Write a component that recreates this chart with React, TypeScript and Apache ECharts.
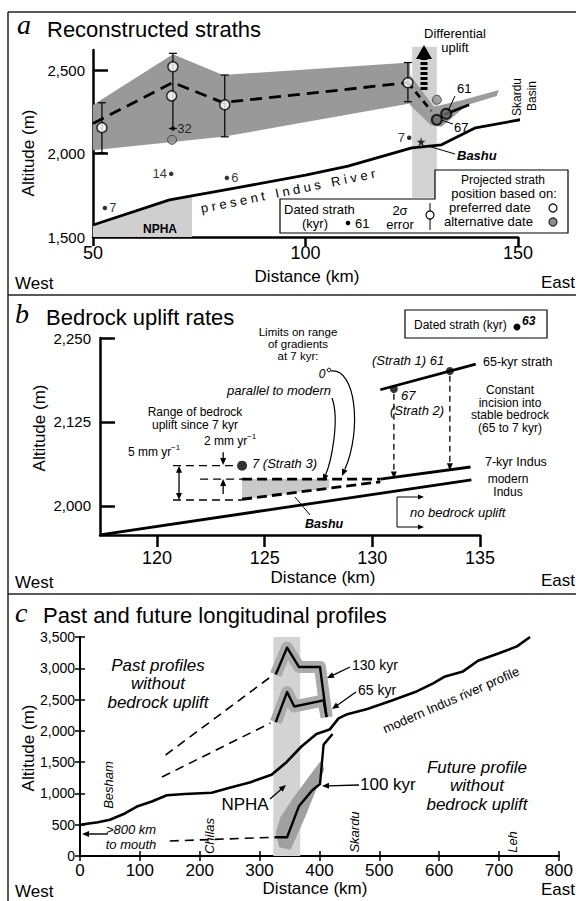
import React, { useEffect, useRef } from 'react';
import * as echarts from 'echarts';

const FF = '"Liberation Sans", Arial, Helvetica, sans-serif';
const SERIF = '"Liberation Serif", "Times New Roman", serif';

// ---------------- Panel a : Reconstructed straths ----------------
const aXTicks = [50, 100, 150];
const aYTicks = [1500, 2000, 2500];
const aEnvelope = [[50, 2290], [68.8, 2595], [80.6, 2470], [124.6, 2545], [124.6, 2300], [80.6, 2100], [50, 2020]];
const aVBand = [[124.6, 2470], [130.2, 2280], [137, 2320], [145.5, 2380], [145, 2345], [138, 2290], [132, 2160], [129.5, 2170], [124.6, 2290]];
const aDiffBand = [[125.1, 1735], [125.1, 2640], [130.9, 2640], [130.9, 1735]];
const aNPHA = [[50, 1500], [50, 1572], [68, 1722], [73.3, 1738], [73.3, 1500]];
const aMeanDashed = [[50, 2180], [68.8, 2425], [80.6, 2305], [124.1, 2424]];
const aMeanDashed2 = [[124.1, 2424], [129.6, 2255]];
const aMeanSolid = [[132.6, 2232], [138.5, 2292]];
const aIndus = [[50, 1572], [68, 1722], [85, 1800], [100, 1870], [110, 1925], [125, 2034], [132, 2052], [140, 2154], [153, 2214]];
const aErrorBars = [[52.1, 2004, 2304], [68.8, 2150, 2600], [81, 2100, 2470], [124.1, 2310, 2545]];
const aPreferred = [[52.1, 2155], [68.8, 2520], [68.5, 2345], [81, 2292], [124.1, 2424]];
const aAlternative = [[68.6, 2082], [130.9, 2322]];
const aAltRinged = [[130.9, 2202], [133.1, 2238]];
const aDated = [[52.8, 1674], [68.4, 1878], [81.5, 1854], [124.4, 2094], [68.8, 2150]];
const aDatedLabels = ['7', '14', '6', '7', '32'];
const aDatedPos = ['right', 'left', 'right', 'left', 'right'];
const aBashu = [[127.2, 2070]];

// ---------------- Panel b : Bedrock uplift rates ----------------
const bXTicks = [120, 125, 130, 135];
const bYTicks = [2000, 2125, 2250];
const bModern = [[117.35, 1957], [134.6, 2039]];
const b7kyr = [[130.37, 2040], [134.56, 2058]];
const bUpperDashed = [[123.95, 2040], [130.37, 2040]];
const bLowerDashed = [[123.95, 2010], [130.37, 2036]];
const bFill = [[123.95, 2040], [128, 2040], [128, 2026.4], [123.95, 2010]];
const bThin1 = [[120.74, 2060], [123.7, 2060]];
const bThin2 = [[122.0, 2040], [123.95, 2040]];
const bThin3 = [[120.74, 2009], [123.95, 2009]];
const b65kyr = [[130.37, 2173], [134.8, 2211]];
const bStrath3 = [[123.95, 2060]];
const bStraths12 = [[131.0, 2174], [133.6, 2201]];
const bArrows = [
  { from: [131.0, 2167], to: [131.0, 2041], dash: [6, 4] },
  { from: [133.6, 2194], to: [133.6, 2053], dash: [6, 4] },
  { from: [121.02, 2060], to: [121.02, 2009], both: true },
  { from: [123.07, 2080], to: [123.07, 2061] },
  { from: [123.07, 2018], to: [123.07, 2040] },
];

// ---------------- Panel c : Past and future longitudinal profiles ----------------
const cModern = [[0, 500], [30, 540], [50, 580], [75, 680], [95, 790], [120, 870], [145, 970], [175, 990], [220, 1010], [250, 1090], [285, 1180], [320, 1300], [345, 1500], [370, 1750], [395, 1950], [417, 2020], [432, 2200], [445, 2260], [480, 2350], [520, 2480], [560, 2620], [590, 2760], [610, 2870], [640, 2950], [665, 3120], [700, 3240], [730, 3350], [752, 3500]];
const cPast130 = [[143, 1614], [316, 2845]];
const cPast65 = [[137, 1262], [318, 2125]];
const c130 = [[327, 2900], [346, 3330], [366, 3020], [401, 3020], [412, 2220]];
const c65 = [[327, 2140], [346, 2620], [358, 2390], [399, 2470], [407, 2490], [412, 2220]];
const c100Dashed = [[150, 240], [325, 300]];
const c100 = [[325, 300], [346, 300], [366, 800], [388, 1050], [401, 1150], [407, 1780], [422, 1950]];
const c100Shade = [[333, 140], [352, 100], [376, 620], [408, 1380], [404, 1540], [391, 1380], [358, 950], [335, 625], [327, 370]];
const cNPHA = [[323, 0], [323, 3500], [368, 3500], [368, 0]];

// ---------------- helpers ----------------
type TO = { fs?: number; ff?: string; it?: boolean; b?: boolean; al?: string; rot?: number };
const T = (text: string, x: number, y: number, o: TO = {}) => ({
  type: 'text', x, y, rotation: o.rot || 0, z: 50, silent: true,
  style: {
    text, fill: '#000', fontSize: o.fs || 12, fontFamily: o.ff || FF,
    fontStyle: o.it ? 'italic' : 'normal', fontWeight: o.b ? 'bold' : 'normal',
    align: o.al || 'left', verticalAlign: 'middle',
  },
});
const L = (x1: number, y1: number, x2: number, y2: number, w = 1.2, dash?: number[], color = '#000') => ({
  type: 'line', z: 50, silent: true, shape: { x1, y1, x2, y2 }, style: { stroke: color, lineWidth: w, lineDash: dash },
});
function arrowEls(x1: number, y1: number, x2: number, y2: number, o: any = {}) {
  const w = o.w ?? 1.2, h = o.h ?? 7, hw = o.hw ?? 3;
  const a = Math.atan2(y2 - y1, x2 - x1), c = Math.cos(a), s = Math.sin(a);
  const head = (tx: number, ty: number, dir: number) => {
    const bx = tx - dir * h * c, by = ty - dir * h * s;
    return { type: 'polygon', z: 50, silent: true, shape: { points: [[tx, ty], [bx - s * hw, by + c * hw], [bx + s * hw, by - c * hw]] }, style: { fill: '#000' } };
  };
  const sx = o.both ? x1 + h * c * 0.8 : x1, sy = o.both ? y1 + h * s * 0.8 : y1;
  const els: any[] = [
    { type: 'line', z: 50, silent: true, shape: { x1: sx, y1: sy, x2: x2 - h * c * 0.8, y2: y2 - h * s * 0.8 }, style: { stroke: '#000', lineWidth: w, lineDash: o.dash } },
    head(x2, y2, 1),
  ];
  if (o.both) els.push(head(x1, y1, -1));
  return els;
}
function curveArrow(p: number[], w = 1.2) {
  const [x1, y1, c1x, c1y, c2x, c2y, x2, y2] = p;
  const a = Math.atan2(y2 - c2y, x2 - c2x), c = Math.cos(a), s = Math.sin(a), h = 7, hw = 3;
  const bx = x2 - h * c, by = y2 - h * s;
  return [
    { type: 'bezierCurve', z: 50, silent: true, shape: { x1, y1, cpx1: c1x, cpy1: c1y, cpx2: c2x, cpy2: c2y, x2: bx, y2: by }, style: { stroke: '#000', lineWidth: w, fill: null } },
    { type: 'polygon', z: 50, silent: true, shape: { points: [[x2, y2], [bx - s * hw, by + c * hw], [bx + s * hw, by - c * hw]] }, style: { fill: '#000' } },
  ];
}

const polySeries = (pts: number[][], gi: number, fill: string, z: number) => ({
  type: 'custom', xAxisIndex: gi, yAxisIndex: gi, z, silent: true, clip: false,
  data: [pts[0]],
  renderItem: (_p: any, api: any) => ({
    type: 'polygon', shape: { points: pts.map((q) => api.coord(q)) }, style: { fill },
  }),
});
const lineSeries = (pts: number[][], gi: number, o: any = {}) => ({
  type: 'line', xAxisIndex: gi, yAxisIndex: gi, data: pts, symbol: 'none', silent: true, z: o.z ?? 4,
  lineStyle: { color: o.color || '#000', width: o.w ?? 2.5, type: o.dash || 'solid', cap: o.cap || 'butt', join: 'round' },
});
const arrowSeries = (list: any[], gi: number) => ({
  type: 'custom', xAxisIndex: gi, yAxisIndex: gi, z: 6, silent: true, clip: false,
  data: list.map((a) => a.from),
  renderItem: (params: any, api: any) => {
    const a = list[params.dataIndex];
    const p1 = api.coord(a.from), p2 = api.coord(a.to);
    return { type: 'group', children: arrowEls(p1[0], p1[1], p2[0], p2[1], { dash: a.dash, both: a.both, w: 1.3 }) };
  },
});

const axisBase = (gi: number, extra: any) => ({
  gridIndex: gi, type: 'value', splitLine: { show: false },
  axisLine: { show: true, lineStyle: { color: '#000', width: 2.5 } },
  ...extra,
});
const fmt = (v: number) => v.toLocaleString('en-US');

export default function App() {
  const ref = useRef<HTMLDivElement>(null);
  useEffect(() => {
    if (!ref.current) return;
    const chart = echarts.init(ref.current, undefined, { renderer: 'svg' });

    const xAxis = [
      axisBase(0, {
        min: 50, max: 150,
        axisTick: { customValues: aXTicks, length: 9, lineStyle: { color: '#000', width: 2.5 } },
        axisLabel: { customValues: aXTicks, fontSize: 18, color: '#000', fontFamily: FF, margin: 7 },
      }),
      axisBase(1, {
        min: 117.35, max: 135,
        axisTick: { customValues: bXTicks, length: 12, lineStyle: { color: '#000', width: 2.5 } },
        axisLabel: { customValues: bXTicks, fontSize: 18, color: '#000', fontFamily: FF, margin: 14 },
      }),
      axisBase(2, {
        min: 0, max: 800, interval: 100,
        axisLine: { show: true, lineStyle: { color: '#000', width: 2 } },
        axisTick: { inside: true, length: 5, lineStyle: { color: '#000', width: 1.5 } },
        axisLabel: { fontSize: 17, color: '#000', fontFamily: FF, margin: 6 },
      }),
      axisBase(2, {
        min: 0, max: 800, interval: 100, position: 'top',
        axisLine: { show: true, lineStyle: { color: '#000', width: 2 } },
        axisTick: { inside: true, length: 5, lineStyle: { color: '#000', width: 1.5 } },
        axisLabel: { show: false },
      }),
    ];
    const yAxis = [
      axisBase(0, {
        min: 1500, max: 2620,
        axisTick: { customValues: [2000, 2500], inside: true, length: 15, lineStyle: { color: '#000', width: 2.5 } },
        axisLabel: { customValues: aYTicks, fontSize: 15, color: '#000', fontFamily: FF, margin: 8, formatter: fmt },
      }),
      axisBase(1, {
        min: 1956.8, max: 2250,
        axisTick: { customValues: bYTicks, inside: true, length: 15, lineStyle: { color: '#000', width: 2.5 } },
        axisLabel: { customValues: bYTicks, fontSize: 15, color: '#000', fontFamily: FF, margin: 9, formatter: fmt },
      }),
      axisBase(2, {
        min: 0, max: 3500, interval: 500,
        axisLine: { show: true, lineStyle: { color: '#000', width: 2 } },
        axisTick: { inside: true, length: 5, lineStyle: { color: '#000', width: 1.5 } },
        axisLabel: { fontSize: 14, color: '#000', fontFamily: FF, margin: 5, formatter: fmt },
      }),
      axisBase(2, {
        min: 0, max: 3500, interval: 500, position: 'right',
        axisLine: { show: true, lineStyle: { color: '#000', width: 2 } },
        axisTick: { inside: true, length: 5, lineStyle: { color: '#000', width: 1.5 } },
        axisLabel: { show: false },
      }),
    ];

    const series: any[] = [
      // ---- panel a
      polySeries(aNPHA, 0, '#cfcfcf', 1),
      polySeries(aDiffBand, 0, '#d2d2d2', 1),
      polySeries(aEnvelope, 0, '#999999', 2),
      polySeries(aVBand, 0, '#9c9c9c', 2),
      lineSeries(aIndus, 0, { w: 2.8 }),
      lineSeries(aMeanDashed, 0, { w: 2.8, dash: [12, 7] }),
      lineSeries(aMeanDashed2, 0, { w: 2.8, dash: [7, 5] }),
      lineSeries(aMeanSolid, 0, { w: 2.8 }),
      {
        type: 'custom', xAxisIndex: 0, yAxisIndex: 0, z: 4, silent: true, clip: false,
        data: aErrorBars, encode: { x: 0, y: [1, 2] },
        renderItem: (_p: any, api: any) => {
          const x = api.value(0);
          const p1 = api.coord([x, api.value(1)]), p2 = api.coord([x, api.value(2)]);
          const st = { stroke: '#000', lineWidth: 1.2 };
          return {
            type: 'group', children: [
              { type: 'line', shape: { x1: p1[0], y1: p1[1], x2: p2[0], y2: p2[1] }, style: st },
              { type: 'line', shape: { x1: p1[0] - 4, y1: p1[1], x2: p1[0] + 4, y2: p1[1] }, style: st },
              { type: 'line', shape: { x1: p2[0] - 4, y1: p2[1], x2: p2[0] + 4, y2: p2[1] }, style: st },
            ],
          };
        },
      },
      {
        type: 'scatter', xAxisIndex: 0, yAxisIndex: 0, z: 6, silent: true,
        data: aDated.map((p, i) => ({ value: p, label: { show: true, formatter: aDatedLabels[i], position: aDatedPos[i] } })),
        symbol: 'circle', symbolSize: 4.5, itemStyle: { color: '#000' },
        label: { fontSize: 13, color: '#000', fontFamily: FF, distance: 2 },
      },
      {
        type: 'scatter', xAxisIndex: 0, yAxisIndex: 0, z: 7, silent: true, data: aPreferred,
        symbol: 'circle', symbolSize: 10, itemStyle: { color: '#fff', borderColor: '#000', borderWidth: 1.5 },
      },
      {
        type: 'scatter', xAxisIndex: 0, yAxisIndex: 0, z: 7, silent: true, data: aAlternative,
        symbol: 'circle', symbolSize: 9, itemStyle: { color: '#8e8e8e', borderColor: '#333', borderWidth: 1 },
      },
      {
        type: 'scatter', xAxisIndex: 0, yAxisIndex: 0, z: 7, silent: true, data: aAltRinged,
        symbol: 'circle', symbolSize: 10, itemStyle: { color: '#6a6a6a', borderColor: '#000', borderWidth: 2 },
      },
      {
        type: 'scatter', xAxisIndex: 0, yAxisIndex: 0, z: 7, silent: true, data: aBashu,
        symbol: 'path://M50,0 L61,35 L98,35 L68,57 L79,91 L50,70 L21,91 L32,57 L2,35 L39,35 Z', symbolSize: 9,
        itemStyle: { color: '#000' },
      },
      // ---- panel b
      polySeries(bFill, 1, '#c9c9c9', 1),
      lineSeries(bModern, 1, { w: 2.8 }),
      lineSeries(b7kyr, 1, { w: 2.8 }),
      lineSeries(bUpperDashed, 1, { w: 2.8, dash: [10, 5] }),
      lineSeries(bLowerDashed, 1, { w: 2.8, dash: [10, 5] }),
      lineSeries(bThin1, 1, { w: 1.4, dash: [8, 5] }),
      lineSeries(bThin2, 1, { w: 1.4, dash: [8, 5] }),
      lineSeries(bThin3, 1, { w: 1.4, dash: [8, 5] }),
      lineSeries(b65kyr, 1, { w: 2.8 }),
      {
        type: 'scatter', xAxisIndex: 1, yAxisIndex: 1, z: 7, silent: true, data: bStrath3,
        symbol: 'circle', symbolSize: 10, itemStyle: { color: '#000' },
      },
      {
        type: 'scatter', xAxisIndex: 1, yAxisIndex: 1, z: 7, silent: true, data: bStraths12,
        symbol: 'circle', symbolSize: 8, itemStyle: { color: '#000' },
      },
      arrowSeries(bArrows, 1),
      // ---- panel c
      polySeries(cNPHA, 2, '#d3d3d3', 1),
      polySeries(c100Shade, 2, '#a0a0a0', 2),
      lineSeries(c130, 2, { w: 12, color: '#ababab', z: 2 }),
      lineSeries(c65, 2, { w: 12, color: '#ababab', z: 2 }),
      lineSeries(cModern, 2, { w: 2.6 }),
      lineSeries(c130, 2, { w: 2.4 }),
      lineSeries(c65, 2, { w: 2.4 }),
      lineSeries(c100, 2, { w: 2.4 }),
      lineSeries(c100Dashed, 2, { w: 1.6, dash: [9, 6] }),
      lineSeries(cPast130, 2, { w: 1.6, dash: [9, 6] }),
      lineSeries(cPast65, 2, { w: 1.6, dash: [9, 6] }),
    ];

    const P = Math.PI / 2;
    const graphic: any[] = [
      // frame
      L(8, 12, 576, 12, 1.5, undefined, '#222'),
      L(8, 12, 8, 901, 1.5, undefined, '#222'),
      L(8, 295, 576, 295, 1.5, undefined, '#222'),
      L(8, 594, 576, 594, 1.5, undefined, '#222'),

      // ---- panel a texts
      T('a', 17, 24, { fs: 28, ff: SERIF, it: true }),
      T('Reconstructed straths', 47, 29, { fs: 22 }),
      T('Altitude (m)', 28, 153, { fs: 17, rot: P, al: 'center' }),
      T('Distance (km)', 307, 276, { fs: 17, al: 'center' }),
      T('West', 15, 283, { fs: 17 }),
      T('East', 575, 282, { fs: 17, al: 'right' }),
      T('Differential', 455, 33, { fs: 13, al: 'center' }),
      T('uplift', 455, 47, { fs: 13, al: 'center' }),
      T('Skardu', 517, 97, { fs: 12, rot: P, al: 'center' }),
      T('Basin', 532, 96, { fs: 12, rot: P, al: 'center' }),
      T('61', 457, 88, { fs: 13 }),
      L(455, 96, 448, 111, 1),
      T('67', 454, 127, { fs: 13 }),
      L(453, 124, 441, 120, 1),
      T('Bashu', 457, 155, { fs: 13, b: true, it: true }),
      L(455, 154, 428, 146, 1),
      T('NPHA', 160, 229, { fs: 12, b: true, al: 'center' }),
      T('p r e s e n t   I n d u s   R i v e r', 288, 191, { fs: 13, al: 'center', rot: 0.2 }),
      // differential uplift arrow
      L(424, 90, 424, 58, 7, [3, 2]),
      { type: 'polygon', z: 50, silent: true, shape: { points: [[416, 59], [432, 59], [424, 45]] }, style: { fill: '#000' } },
      // legend box a
      {
        type: 'polygon', z: 40, silent: true,
        shape: { points: [[280, 199], [435, 199], [435, 170], [568, 170], [568, 233], [280, 233]] },
        style: { fill: '#fff', stroke: '#000', lineWidth: 1.2 },
      },
      T('Dated strath', 284, 209, { fs: 13 }),
      T('(kyr)', 302, 223, { fs: 13 }),
      { type: 'circle', z: 50, silent: true, shape: { cx: 348, cy: 223, r: 2.3 }, style: { fill: '#000' } },
      T('61', 355, 223, { fs: 13 }),
      T('2σ', 400, 210, { fs: 13, al: 'center' }),
      T('error', 400, 224, { fs: 13, al: 'center' }),
      L(430, 203, 430, 230, 1),
      { type: 'circle', z: 51, silent: true, shape: { cx: 430, cy: 215, r: 4 }, style: { fill: '#fff', stroke: '#000', lineWidth: 1.2 } },
      T('Projected strath', 503, 180, { fs: 12, al: 'center' }),
      T('position based on:', 504, 193, { fs: 13, al: 'center' }),
      T('preferred date', 449, 207, { fs: 13 }),
      T('alternative date', 444, 221, { fs: 13 }),
      { type: 'circle', z: 51, silent: true, shape: { cx: 553, cy: 208, r: 4 }, style: { fill: '#fff', stroke: '#000', lineWidth: 1.2 } },
      { type: 'circle', z: 51, silent: true, shape: { cx: 553, cy: 222, r: 4 }, style: { fill: '#8e8e8e', stroke: '#222', lineWidth: 1.2 } },

      // ---- panel b texts
      T('b', 15, 313, { fs: 28, ff: SERIF, it: true }),
      T('Bedrock uplift rates', 46, 317, { fs: 22 }),
      T('Altitude (m)', 39, 428, { fs: 17, rot: P, al: 'center' }),
      T('Distance (km)', 323, 577, { fs: 17, al: 'center' }),
      T('West', 15, 582, { fs: 17 }),
      T('East', 575, 580, { fs: 17, al: 'right' }),
      T('Limits on range', 298, 332, { fs: 11.5, al: 'center' }),
      T('of gradients', 298, 344, { fs: 11.5, al: 'center' }),
      T('at 7 kyr:', 298, 356, { fs: 11.5, al: 'center' }),
      T('0', 322, 374, { fs: 12, it: true, al: 'center' }),
      { type: 'circle', z: 50, silent: true, shape: { cx: 329, cy: 370, r: 1.8 }, style: { fill: 'none', stroke: '#000', lineWidth: 1 } },
      T('parallel to modern', 279, 390, { fs: 13, it: true, al: 'center' }),
      ...curveArrow([332, 398, 340, 420, 331, 462, 323, 481]),
      ...curveArrow([331, 371, 356, 368, 362, 430, 342, 476]),
      T('Range of bedrock', 195, 412, { fs: 12, al: 'center' }),
      T('uplift since 7 kyr', 195, 425, { fs: 12, al: 'center' }),
      T('2 mm yr', 204, 441, { fs: 12 }),
      T('−1', 247, 436, { fs: 8 }),
      T('5 mm yr', 128, 452, { fs: 12 }),
      T('−1', 171, 447, { fs: 8 }),
      T('7 (Strath 3)', 252, 463, { fs: 13, it: true }),
      T('Bashu', 305, 524, { fs: 12.5, b: true, it: true }),
      L(310, 515, 295, 497, 1),
      { type: 'rect', z: 40, silent: true, shape: { x: 405, y: 310, width: 142, height: 28 }, style: { fill: '#fff', stroke: '#000', lineWidth: 1.2 } },
      T('Dated strath (kyr)', 414, 325, { fs: 12 }),
      { type: 'circle', z: 50, silent: true, shape: { cx: 517, cy: 327, r: 3.5 }, style: { fill: '#000' } },
      T('63', 522, 321, { fs: 12, it: true, b: true }),
      T('(Strath 1) 61', 372, 360, { fs: 13, it: true }),
      T('67', 401, 395, { fs: 13, it: true }),
      T('(Strath 2)', 417, 410, { fs: 13, it: true, al: 'center' }),
      T('65-kyr strath', 483, 362, { fs: 12.5 }),
      T('Constant', 510, 390, { fs: 12, al: 'center' }),
      T('incision into', 510, 402.5, { fs: 12, al: 'center' }),
      T('stable bedrock', 510, 415, { fs: 12, al: 'center' }),
      T('(65 to 7 kyr)', 510, 427.5, { fs: 12, al: 'center' }),
      T('7-kyr Indus', 485, 462, { fs: 12.5 }),
      T('modern', 508, 479, { fs: 12, al: 'center' }),
      T('Indus', 508, 492, { fs: 12, al: 'center' }),
      T('no bedrock uplift', 410, 512, { fs: 13, it: true }),
      L(397, 497, 397, 527, 1),
      ...arrowEls(397, 497, 424, 497, { w: 1, h: 6, hw: 2.5 }),
      ...arrowEls(397, 527, 424, 527, { w: 1, h: 6, hw: 2.5 }),

      // ---- panel c texts
      T('c', 15, 612, { fs: 28, ff: SERIF, it: true }),
      T('Past and future longitudinal profiles', 43, 615, { fs: 22 }),
      T('Altitude (m)', 28, 748, { fs: 17, rot: P, al: 'center' }),
      T('Distance (km)', 315, 888, { fs: 17, al: 'center' }),
      T('West', 15, 891, { fs: 17 }),
      T('East', 575, 889, { fs: 17, al: 'right' }),
      T('Past profiles', 158, 665, { fs: 17, it: true, al: 'center' }),
      T('without', 158, 683, { fs: 17, it: true, al: 'center' }),
      T('bedrock uplift', 158, 702, { fs: 17, it: true, al: 'center' }),
      T('Future profile', 477, 767, { fs: 17, it: true, al: 'center' }),
      T('without', 477, 785, { fs: 17, it: true, al: 'center' }),
      T('bedrock uplift', 477, 804, { fs: 17, it: true, al: 'center' }),
      T('modern Indus river profile', 451, 700, { fs: 13, al: 'center', rot: 0.41 }),
      T('130 kyr', 352, 665, { fs: 14 }),
      ...arrowEls(350, 667, 327, 678, { w: 1.3 }),
      T('65 kyr', 358, 690, { fs: 14 }),
      ...arrowEls(356, 692, 332, 709, { w: 1.3 }),
      T('100 kyr', 360, 784, { fs: 17 }),
      ...arrowEls(359, 785, 322, 786, { w: 1.3 }),
      T('NPHA', 245, 804, { fs: 17, al: 'center' }),
      ...arrowEls(270, 799, 286, 785, { w: 1.3 }),
      T('Besham', 108, 785, { fs: 13, it: true, rot: P, al: 'center' }),
      T('Chilas', 209, 836, { fs: 13, it: true, rot: P, al: 'center' }),
      T('Skardu', 354, 832, { fs: 13, it: true, rot: P, al: 'center' }),
      T('Leh', 512, 842, { fs: 13, it: true, rot: P, al: 'center' }),
      T('>800 km', 131, 829, { fs: 13, it: true, al: 'center' }),
      T('to mouth', 131, 844, { fs: 13, it: true, al: 'center' }),
      ...arrowEls(108, 834, 82, 834, { w: 1.4 }),
    ];

    chart.setOption({
      animation: false,
      backgroundColor: '#fff',
      textStyle: { fontFamily: FF },
      grid: [
        { left: 93, top: 50, width: 425, height: 187 },
        { left: 100, top: 338, width: 380, height: 197 },
        { left: 80, top: 637, width: 485, height: 219 },
      ],
      xAxis,
      yAxis,
      series,
      graphic,
    });
    return () => chart.dispose();
  }, []);
  return <div ref={ref} style={{ position: 'absolute', left: 0, top: 0, width: 576, height: 901 }} />;
}
